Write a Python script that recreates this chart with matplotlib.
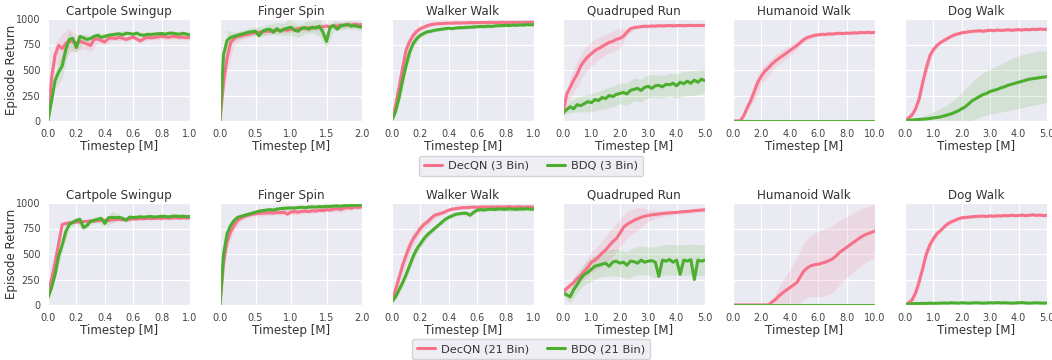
import numpy as np
import matplotlib
matplotlib.use("Agg")
import matplotlib.pyplot as plt
import seaborn as sns

sns.set_style("darkgrid")
plt.rcParams['font.family'] = ['DejaVu Sans']

pink = '#f7718a'
green = '#4cae2e'

titles = ["Cartpole Swingup", "Finger Spin", "Walker Walk",
          "Quadruped Run", "Humanoid Walk", "Dog Walk"]
xmaxes = [1.0, 2.0, 1.0, 5.0, 10.0, 5.0]
xtick_steps = [0.2, 0.5, 0.2, 1.0, 2.0, 1.0]

# ---- 3 bin results (mean curves: 41 pts, band half-widths: 21 pts) ----
cart3_dec = [0, 420, 650, 740, 710, 760, 790, 775, 765, 780,
             770, 755, 740, 800, 805, 790, 775, 810, 815, 808,
             820, 812, 800, 812, 822, 805, 785, 808, 820, 815,
             818, 825, 830, 825, 820, 830, 826, 820, 822, 816,
             820]
cart3_dec_w = [0, 100, 150, 120, 80, 60, 60, 40, 30, 30,
               30, 25, 25, 25, 25, 25, 25, 25, 25, 25, 25]
cart3_bdq = [0, 200, 400, 480, 540, 700, 800, 810, 720, 830,
             815, 800, 810, 830, 840, 820, 830, 840, 845, 850,
             855, 845, 860, 858, 850, 862, 845, 840, 850, 848,
             852, 855, 858, 850, 860, 862, 855, 850, 860, 852,
             845]
cart3_bdq_w = [0, 80, 120, 80, 50, 40, 30, 30, 25, 25,
               25, 25, 20, 20, 20, 20, 20, 20, 20, 20, 20]

fing3_dec = [0, 380, 620, 770, 810, 830, 835, 845, 850, 860,
             865, 870, 875, 880, 880, 885, 890, 885, 895, 890,
             900, 895, 905, 910, 905, 915, 910, 920, 915, 925,
             930, 925, 935, 930, 940, 938, 945, 940, 948, 942,
             945]
fing3_dec_w = [0, 120, 60, 40, 30, 30, 30, 30, 30, 30,
               30, 30, 30, 30, 30, 30, 30, 30, 30, 30, 30]
fing3_bdq = [0, 650, 790, 820, 830, 840, 850, 860, 870, 875,
             880, 835, 880, 895, 900, 870, 905, 880, 900, 910,
             920, 890, 880, 910, 915, 900, 920, 910, 930, 870,
             780, 920, 935, 900, 930, 940, 945, 930, 935, 925,
             920]
fing3_bdq_w = [0, 100, 40, 40, 40, 40, 50, 50, 60, 60,
               80, 60, 60, 60, 100, 60, 50, 40, 40, 40, 40]

walk3_dec = [20, 150, 330, 520, 700, 780, 840, 880, 905, 920,
             935, 945, 950, 955, 955, 958, 960, 958, 962, 960,
             963, 962, 965, 963, 965, 966, 964, 966, 967, 965,
             966, 968, 966, 967, 968, 966, 968, 967, 968, 969,
             968]
walk3_dec_w = [20, 80, 80, 50, 30, 20, 15, 15, 15, 15,
               15, 15, 15, 15, 15, 15, 15, 15, 15, 15, 15]
walk3_bdq = [10, 90, 230, 400, 550, 680, 760, 810, 840, 860,
             875, 880, 890, 895, 900, 905, 910, 905, 912, 915,
             915, 918, 920, 922, 925, 928, 925, 930, 928, 932,
             935, 935, 938, 936, 940, 938, 942, 940, 945, 943,
             945]
walk3_bdq_w = [10, 60, 60, 40, 25, 20, 15, 15, 15, 15,
               15, 15, 15, 15, 15, 15, 15, 15, 15, 15, 15]

quad3_dec = [70, 260, 330, 400, 460, 540, 590, 630, 660, 690,
             710, 730, 750, 770, 780, 800, 810, 830, 870, 905,
             915, 920, 925, 930, 928, 932, 930, 935, 932, 934,
             936, 933, 935, 937, 934, 936, 938, 935, 937, 936,
             938]
quad3_dec_w = [10, 100, 130, 120, 120, 110, 100, 100, 100, 30,
               20, 15, 15, 15, 15, 15, 15, 15, 15, 15, 15]
quad3_bdq = [80, 110, 140, 120, 160, 150, 170, 190, 180, 210,
             200, 230, 220, 250, 240, 260, 270, 280, 265, 300,
             310, 320, 300, 330, 340, 320, 345, 350, 335, 360,
             355, 370, 345, 380, 365, 390, 370, 400, 380, 410,
             395]
quad3_bdq_w = [20, 60, 70, 80, 90, 90, 100, 100, 100, 110,
               110, 110, 110, 110, 110, 110, 120, 120, 120, 120, 120]

hum3_dec = [0, 0, 0, 50, 130, 200, 290, 380, 440, 490,
            520, 560, 590, 615, 640, 665, 690, 715, 740, 770,
            800, 820, 830, 840, 845, 850, 848, 855, 852, 858,
            860, 857, 862, 860, 865, 862, 868, 865, 870, 866,
            870]
hum3_dec_w = [0, 0, 30, 90, 80, 70, 60, 60, 50, 40,
              30, 20, 15, 15, 15, 15, 15, 15, 15, 15, 15]
hum3_bdq = [0] * 41
hum3_bdq_w = [0] * 21

dog3_dec = [0, 30, 60, 120, 220, 380, 520, 640, 700, 740,
            770, 790, 810, 830, 845, 855, 865, 870, 875, 880,
            882, 885, 880, 886, 890, 885, 892, 888, 890, 895,
            890, 893, 896, 892, 898, 894, 900, 896, 902, 898,
            900]
dog3_dec_w = [0, 20, 60, 60, 30, 20, 15, 15, 15, 15,
              15, 15, 15, 15, 15, 15, 15, 15, 15, 15, 15]
dog3_bdq = [0, 5, 10, 12, 15, 18, 20, 25, 30, 35,
            40, 50, 60, 70, 85, 100, 120, 140, 170, 200,
            220, 240, 260, 270, 290, 300, 310, 325, 335, 350,
            360, 370, 380, 390, 400, 410, 415, 420, 425, 430,
            435]
dog3_bdq_w = [0, 10, 20, 40, 60, 80, 100, 130, 160, 180,
              200, 210, 220, 230, 240, 250, 260, 260, 260, 260, 250]

# ---- 21 bin results ----
cart21_dec = [140, 250, 420, 600, 790, 800, 805, 810, 815, 812,
              818, 820, 825, 822, 828, 830, 832, 828, 835, 838,
              840, 835, 842, 840, 845, 842, 848, 845, 850, 846,
              850, 852, 848, 855, 850, 852, 856, 850, 855, 852,
              855]
cart21_dec_w = [30, 40, 20, 20, 15, 15, 15, 15, 15, 15,
                15, 15, 15, 15, 15, 15, 15, 15, 15, 15, 15]
cart21_bdq = [70, 170, 300, 480, 590, 720, 790, 810, 830, 840,
              760, 780, 820, 830, 840, 850, 800, 855, 860, 855,
              860, 850, 830, 862, 858, 860, 865, 860, 865, 868,
              862, 866, 870, 868, 864, 870, 872, 868, 870, 866,
              868]
cart21_bdq_w = [20, 40, 60, 40, 30, 30, 30, 30, 30, 60,
                30, 20, 20, 20, 20, 20, 20, 20, 20, 20, 20]

fing21_dec = [0, 420, 620, 720, 780, 830, 855, 870, 880, 890,
              895, 898, 900, 902, 905, 900, 908, 905, 910, 890,
              912, 915, 910, 918, 920, 915, 925, 920, 930, 925,
              935, 930, 940, 945, 935, 950, 955, 948, 960, 955,
              965]
fing21_dec_w = [0, 60, 40, 30, 25, 25, 25, 25, 25, 25,
                25, 25, 25, 25, 25, 25, 25, 25, 25, 25, 25]
fing21_bdq = [0, 500, 700, 780, 830, 860, 870, 880, 890, 900,
              910, 920, 925, 930, 935, 930, 940, 945, 948, 950,
              952, 950, 955, 958, 955, 960, 962, 960, 965, 962,
              968, 965, 970, 972, 968, 975, 972, 978, 975, 980,
              980]
fing21_bdq_w = [0, 40, 30, 20, 20, 20, 20, 20, 20, 20,
                20, 20, 20, 20, 20, 20, 20, 20, 20, 20, 20]

walk21_dec = [40, 150, 270, 390, 490, 580, 650, 700, 750, 790,
              815, 850, 880, 890, 900, 915, 930, 940, 945, 950,
              955, 955, 958, 960, 958, 960, 962, 960, 962, 960,
              963, 960, 962, 964, 960, 962, 963, 960, 962, 961,
              960]
walk21_dec_w = [20, 60, 80, 70, 50, 40, 30, 20, 15, 15,
                15, 15, 15, 15, 15, 15, 15, 15, 15, 15, 15]
walk21_bdq = [30, 80, 150, 220, 300, 390, 480, 550, 600, 650,
              690, 720, 750, 780, 810, 840, 860, 875, 890, 895,
              900, 900, 880, 910, 930, 935, 932, 938, 940, 936,
              942, 940, 938, 944, 940, 938, 942, 940, 945, 940,
              940]
walk21_bdq_w = [15, 40, 50, 50, 40, 30, 25, 20, 20, 20,
                20, 20, 20, 20, 20, 20, 20, 20, 20, 20, 20]

quad21_dec = [130, 160, 190, 220, 260, 290, 330, 370, 420, 440,
              470, 510, 540, 580, 620, 650, 700, 760, 790, 810,
              830, 845, 860, 870, 878, 884, 888, 892, 896, 900,
              903, 906, 908, 912, 915, 918, 920, 925, 928, 930,
              935]
quad21_dec_w = [30, 40, 60, 80, 100, 120, 130, 140, 140, 130,
                120, 100, 60, 40, 30, 25, 20, 20, 20, 20, 20]
quad21_bdq = [120, 100, 80, 150, 200, 260, 300, 320, 350, 380,
              390, 400, 410, 380, 420, 430, 410, 420, 390, 430,
              425, 410, 440, 420, 430, 435, 420, 280, 440, 430,
              445, 420, 440, 300, 440, 430, 445, 250, 440, 430,
              440]
quad21_bdq_w = [30, 60, 80, 100, 120, 120, 130, 130, 130, 130,
                140, 140, 140, 150, 150, 150, 150, 150, 150, 150, 150]

hum21_dec = [0, 0, 0, 0, 0, 0, 0, 0, 0, 0,
             0, 30, 55, 90, 120, 145, 170, 195, 220, 280,
             335, 365, 385, 395, 400, 410, 420, 435, 450, 480,
             515, 540, 565, 590, 615, 640, 665, 685, 700, 712,
             725]
hum21_dec_w = [0, 0, 0, 0, 0, 10, 60, 120, 180, 240,
               280, 300, 320, 330, 330, 320, 300, 290, 280, 270, 260]
hum21_bdq = [0] * 41
hum21_bdq_w = [0] * 21

dog21_dec = [0, 20, 50, 120, 230, 360, 500, 590, 650, 700,
             730, 765, 795, 815, 830, 845, 855, 858, 862, 866,
             868, 870, 872, 868, 874, 870, 876, 872, 878, 874,
             880, 876, 878, 882, 876, 880, 884, 878, 882, 876,
             880]
dog21_dec_w = [0, 30, 60, 50, 30, 20, 15, 15, 15, 15,
               15, 15, 15, 15, 15, 15, 15, 15, 15, 15, 15]
dog21_bdq = [5, 10, 12, 15, 14, 16, 15, 18, 16, 17,
             18, 20, 18, 22, 20, 18, 22, 20, 18, 20,
             22, 20, 18, 20, 22, 20, 24, 20, 22, 20,
             18, 20, 22, 24, 20, 18, 20, 22, 20, 18,
             20]
dog21_bdq_w = [5, 10, 10, 10, 10, 10, 10, 10, 10, 10,
               10, 10, 10, 10, 10, 10, 10, 10, 10, 10, 10]

rows = [
    ("3 Bin", [(cart3_dec, cart3_dec_w, cart3_bdq, cart3_bdq_w),
               (fing3_dec, fing3_dec_w, fing3_bdq, fing3_bdq_w),
               (walk3_dec, walk3_dec_w, walk3_bdq, walk3_bdq_w),
               (quad3_dec, quad3_dec_w, quad3_bdq, quad3_bdq_w),
               (hum3_dec, hum3_dec_w, hum3_bdq, hum3_bdq_w),
               (dog3_dec, dog3_dec_w, dog3_bdq, dog3_bdq_w)]),
    ("21 Bin", [(cart21_dec, cart21_dec_w, cart21_bdq, cart21_bdq_w),
                (fing21_dec, fing21_dec_w, fing21_bdq, fing21_bdq_w),
                (walk21_dec, walk21_dec_w, walk21_bdq, walk21_bdq_w),
                (quad21_dec, quad21_dec_w, quad21_bdq, quad21_bdq_w),
                (hum21_dec, hum21_dec_w, hum21_bdq, hum21_bdq_w),
                (dog21_dec, dog21_dec_w, dog21_bdq, dog21_bdq_w)]),
]

W, H = 1052, 360
fig = plt.figure(figsize=(W / 100, H / 100), dpi=100)

lefts = [48, 220, 392, 563, 733, 905]
row_tops = [19, 203]
ax_w, ax_h = 142, 102
legend_y = [166, 349]


def draw(ax, mean, w, color, xmax, label):
    mean = np.array(mean, dtype=float)
    w = np.array(w, dtype=float)
    x = np.linspace(0, xmax, len(mean))
    xb = np.linspace(0, xmax, len(w))
    mb = mean[::2]
    ax.fill_between(xb, mb - w, mb + w, color=color, alpha=0.15, lw=0)
    ax.plot(x, mean, color=color, lw=2.2, label=label)


for r, (bins, panels) in enumerate(rows):
    for c, (dec, dec_w, bdq, bdq_w) in enumerate(panels):
        ax = fig.add_axes([lefts[c] / W, 1 - (row_tops[r] + ax_h) / H, ax_w / W, ax_h / H])
        xmax = xmaxes[c]
        draw(ax, dec, dec_w, pink, xmax, f"DecQN ({bins})")
        draw(ax, bdq, bdq_w, green, xmax, f"BDQ ({bins})")
        ax.set_xlim(0, xmax)
        ax.set_ylim(0, 1000)
        ax.set_xticks(np.arange(0, xmax + 1e-9, xtick_steps[c]))
        ax.xaxis.set_major_formatter(matplotlib.ticker.FormatStrFormatter('%.1f'))
        ax.set_yticks([0, 250, 500, 750, 1000])
        ax.tick_params(labelsize=7, pad=2, colors='#444444')
        ax.set_title(titles[c], fontsize=8.6, pad=3, color='#333333')
        ax.set_xlabel("Timestep [M]", fontsize=8.6, labelpad=1, color='#333333')
        if c == 0:
            ax.set_ylabel("Episode Return", fontsize=8.6, color='#333333')
            ax.yaxis.set_label_coords(-0.21, 0.5)
            handles, labels = ax.get_legend_handles_labels()
        else:
            ax.set_yticklabels([])
    leg = fig.legend(handles, labels, loc='center', ncol=2, fontsize=8.2,
                     bbox_to_anchor=(531 / W, 1 - legend_y[r] / H),
                     frameon=True, handlelength=1.6, columnspacing=1.6,
                     borderpad=0.45, handletextpad=0.5)
    leg.get_frame().set_facecolor('#eaeaf2')
    leg.get_frame().set_edgecolor('#cccccc')
    for t in leg.get_texts():
        t.set_color('#333333')

fig.savefig("out.png", dpi=100)
